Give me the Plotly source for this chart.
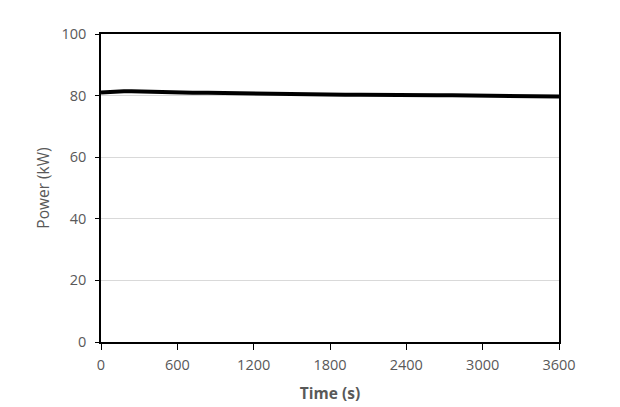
import plotly.graph_objects as go

time_s = [0, 60, 120, 180, 240, 300, 360, 420, 480, 540, 600, 720, 840, 960, 1080, 1200,
          1320, 1440, 1560, 1680, 1800, 1920, 2040, 2160, 2280, 2400, 2520, 2640, 2760,
          2880, 3000, 3120, 3240, 3360, 3480, 3600]
power_kw = [81.0, 81.2, 81.3, 81.4, 81.4, 81.3, 81.3, 81.2, 81.1, 81.1, 81.0, 80.9, 80.9,
            80.8, 80.7, 80.6, 80.6, 80.5, 80.5, 80.4, 80.4, 80.3, 80.3, 80.2, 80.2, 80.2,
            80.1, 80.1, 80.1, 80.0, 80.0, 79.9, 79.9, 79.8, 79.8, 79.7]

x_ticks = [0, 600, 1200, 1800, 2400, 3000, 3600]
y_ticks = [0, 20, 40, 60, 80, 100]

fig = go.Figure()
fig.add_trace(go.Scatter(x=time_s, y=power_kw, mode="lines",
                         line=dict(color="black", width=4), showlegend=False))

font_fam = "Open Sans, Liberation Sans, sans-serif"
fig.update_layout(
    width=620, height=407,
    margin=dict(l=101, r=61, t=34, b=65, autoexpand=False),
    paper_bgcolor="white", plot_bgcolor="white",
    font=dict(family=font_fam, color="#595959", size=14.5),
)
fig.update_xaxes(
    range=[0, 3600], tickvals=x_ticks, ticktext=[str(v) for v in x_ticks],
    showgrid=False, zeroline=False, automargin=False,
    showline=True, linecolor="black", linewidth=1.5, mirror=True,
    ticks="outside", ticklen=6, tickcolor="black", ticklabelstandoff=3,
    title=dict(text="<b>Time (s)</b>", font=dict(size=15.5, color="#595959"), standoff=15),
)
fig.update_yaxes(
    range=[0, 100], tickvals=y_ticks,
    showgrid=True, gridcolor="#d9d9d9", gridwidth=1, zeroline=False, automargin=False,
    showline=True, linecolor="black", linewidth=1.5, mirror=True,
    ticks="outside", ticklen=4, tickcolor="black", ticklabelstandoff=6,
    title=dict(text="Power (kW)", font=dict(size=15.5, color="#595959"), standoff=8),
)

fig.write_html("out.html", config={"displayModeBar": False},
               post_script="document.body.style.margin='0';document.body.style.overflow='hidden';")
